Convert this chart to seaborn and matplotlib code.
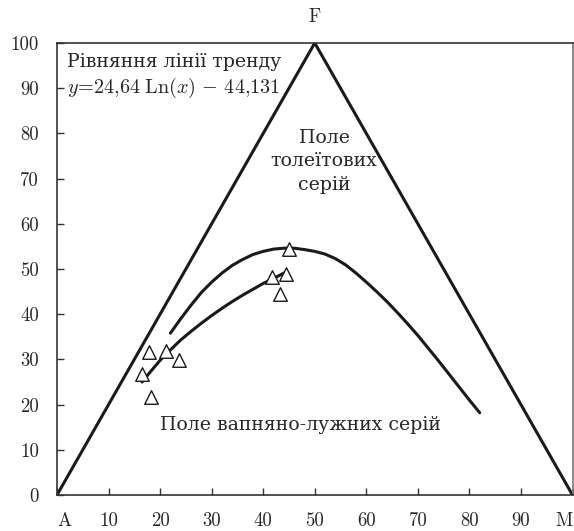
import matplotlib
matplotlib.use('Agg')
import matplotlib.pyplot as plt
import numpy as np
import pandas as pd
import seaborn as sns

# вершини трикутника AFM
tri_x = [0, 50, 100]
tri_y = [0, 100, 0]

# точки складів порід
pts_x = [16.5, 17.8, 18.3, 21.1, 23.6, 41.8, 43.2, 44.5, 45.1]
pts_y = [26.7, 31.6, 21.6, 31.9, 29.9, 48.3, 44.5, 49.0, 54.4]

# лінія тренду
trend_x = [16.5, 18, 20, 22, 24, 26, 28, 30, 32, 34, 36, 38, 40, 42, 44]
trend_y = [25.0, 27.1, 29.8, 32.1, 34.3, 36.2, 38.0, 39.7, 41.3, 42.8, 44.2, 45.5, 46.8, 47.9, 49.1]

# межа полів
bound_x = [22, 24, 26, 28, 30, 32, 34, 36, 38, 40, 42, 44, 46, 48, 50, 52, 54, 56, 58,
           60, 62, 64, 66, 68, 70, 72, 74, 76, 78, 80, 82]
bound_y = [35.8, 39.0, 42.0, 44.8, 47.1, 49.1, 50.8, 52.1, 53.2, 53.9, 54.4, 54.6, 54.6,
           54.3, 53.9, 53.3, 52.3, 50.9, 49.1, 47.1, 45.0, 42.8, 40.4, 37.9, 35.3, 32.5,
           29.7, 26.8, 23.9, 21.0, 18.2]

x_ticks = [0, 10, 20, 30, 40, 50, 60, 70, 80, 90, 100]
x_labels = ['A', '10', '20', '30', '40', '50', '60', '70', '80', '90', 'M']
y_ticks = [0, 10, 20, 30, 40, 50, 60, 70, 80, 90, 100]

sns.set_style('ticks')
plt.rcParams['mathtext.fontset'] = 'cm'
plt.rcParams['axes.unicode_minus'] = False

fig = plt.figure(figsize=(5.74, 5.31), dpi=100)
ax = fig.add_axes([57 / 574, 36 / 531, 515.5 / 574, 452 / 531])

line_col = '#1a1a1a'
sns.lineplot(x=tri_x, y=tri_y, sort=False, color=line_col, lw=2.2, ax=ax)
sns.lineplot(x=bound_x, y=bound_y, sort=False, color=line_col, lw=2.2, ax=ax)
sns.lineplot(x=trend_x, y=trend_y, sort=False, color=line_col, lw=2.2, ax=ax)
sns.scatterplot(x=pts_x, y=pts_y, marker='^', s=95, facecolor='white',
                edgecolor=line_col, linewidth=1.0, zorder=5, ax=ax)

ax.set_xlim(0, 100)
ax.set_ylim(0, 100)
for s in ax.spines.values():
    s.set_visible(True)
    s.set_color('#333333')
    s.set_linewidth(1.2)
ax.spines['right'].set_color('#777777')

cm_font = {'family': 'cmr10', 'size': 13.5}
ax.set_xticks(x_ticks)
ax.set_xticklabels(x_labels, fontdict=cm_font)
ax.set_yticks(y_ticks)
ax.set_yticklabels([str(v) for v in y_ticks], fontdict=cm_font)
ax.tick_params(direction='in', length=5, width=1.0, color='#333333')
ax.tick_params(axis='x', pad=12)
ax.tick_params(axis='y', pad=13)
xl = ax.get_xticklabels()
xl[0].set_ha('left')
xl[-1].set_ha('right')

ax.text(50, 105.8, 'F', ha='center', va='center', fontdict=cm_font, clip_on=False)

cyr = ['DejaVu Serif']
fs = 13.6
ax.text(2.0, 95.8, 'Рівняння лінії тренду', family=cyr, size=fs, ha='left', va='center')
ax.text(2.0, 90.0, r'$y\!=\!24{,}64\;\mathrm{Ln}(x)\,-\,44{,}131$', size=14.5,
        ha='left', va='center')
ax.text(51.8, 73.8, 'Поле\nтолеїтових\nсерій', family=cyr, size=fs, ha='center',
        va='center', linespacing=1.4)
ax.text(47.3, 15.5, 'Поле вапняно-лужних серій', family=cyr, size=fs, ha='center',
        va='center')

plt.savefig('out.png', dpi=100)
